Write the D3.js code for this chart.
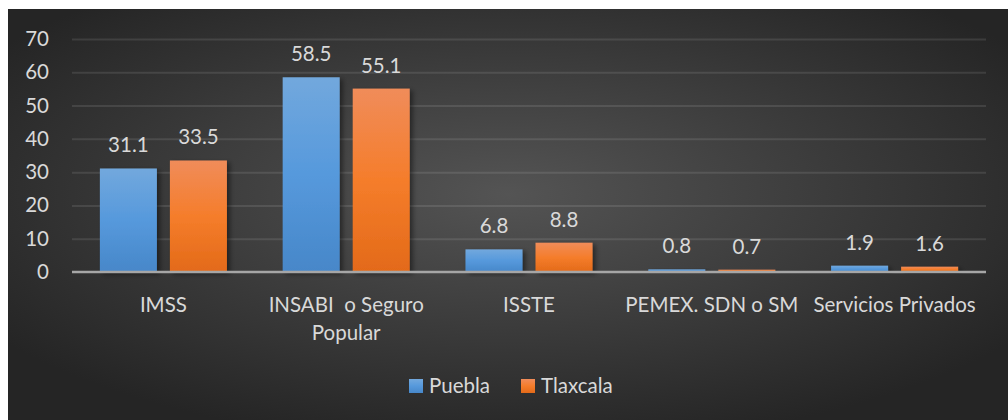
<!DOCTYPE html>
<html lang="es">
<head>
<meta charset="UTF-8">
<title>Afiliación por subsistema</title>
<style>
  html, body { margin: 0; padding: 0; background: #fff; }
  svg { display: block; }
  text { font-family: Lato, "Open Sans", sans-serif; fill: #d9d9d9; }
</style>
</head>
<body>
<script src="https://cdn.jsdelivr.net/npm/d3@7"></script>
<script>
// datos
var categorias = [["IMSS"], ["INSABI  o Seguro", "Popular"], ["ISSTE"], ["PEMEX. SDN o SM"], ["Servicios Privados"]];
var series = ["Puebla", "Tlaxcala"];
var puebla = [31.1, 58.5, 6.8, 0.8, 1.9];
var tlaxcala = [33.5, 55.1, 8.8, 0.7, 1.6];
var ticksY = [0, 10, 20, 30, 40, 50, 60, 70];

var W = 1008, H = 420;
var FS = "20.5px";
var svg = d3.select("body").append("svg").attr("width", W).attr("height", H);
var defs = svg.append("defs");

// fondo oscuro con degradado radial
var bg = defs.append("radialGradient").attr("id", "bg")
  .attr("cx", "50%").attr("cy", "45%").attr("r", "62%");
bg.append("stop").attr("offset", "0%").attr("stop-color", "#545454");
bg.append("stop").attr("offset", "100%").attr("stop-color", "#252525");

var gradBlue = defs.append("linearGradient").attr("id", "gBlue").attr("x1", 0).attr("x2", 0).attr("y1", 0).attr("y2", 1);
gradBlue.append("stop").attr("offset", "0%").attr("stop-color", "#72a8dd");
gradBlue.append("stop").attr("offset", "50%").attr("stop-color", "#5699dc");
gradBlue.append("stop").attr("offset", "100%").attr("stop-color", "#4787c9");
var gradOrange = defs.append("linearGradient").attr("id", "gOrange").attr("x1", 0).attr("x2", 0).attr("y1", 0).attr("y2", 1);
gradOrange.append("stop").attr("offset", "0%").attr("stop-color", "#f08c5a");
gradOrange.append("stop").attr("offset", "50%").attr("stop-color", "#f57d2b");
gradOrange.append("stop").attr("offset", "100%").attr("stop-color", "#e36a19");

var sh = defs.append("filter").attr("id", "sh").attr("x", "-20%").attr("y", "-20%").attr("width", "150%").attr("height", "140%");
sh.append("feDropShadow").attr("dx", 3).attr("dy", 2).attr("stdDeviation", 2.5)
  .attr("flood-color", "#000").attr("flood-opacity", 0.45);

svg.append("rect").attr("x", 8).attr("y", 9).attr("width", W - 8).attr("height", H - 9)
  .attr("fill", "url(#bg)");

var colores = {"Puebla": "url(#gBlue)", "Tlaxcala": "url(#gOrange)"};
var valores = {"Puebla": puebla, "Tlaxcala": tlaxcala};

var x0 = d3.scaleBand().domain(d3.range(categorias.length))
  .range([72, 986]).paddingInner(0.305).paddingOuter(0.1525);
var x1 = d3.scaleBand().domain(series).range([0, x0.bandwidth()]).paddingInner(0.186);
var y = d3.scaleLinear().domain([0, 70]).range([272, 39]);

// lineas de division
var yAxis = d3.axisLeft(y).tickValues(ticksY).tickSize(-(986 - 72)).tickPadding(14);
var gy = svg.append("g").attr("transform", "translate(72,0)").call(yAxis);
gy.select(".domain").remove();
gy.selectAll(".tick line").attr("stroke", "#ffffff").attr("stroke-opacity", 0.1).attr("stroke-width", 2)
  .filter(function(d) { return d === 0; }).remove();
gy.selectAll(".tick text").attr("fill", "#d9d9d9").style("font-size", FS)
  .attr("text-anchor", "end").attr("x", -23);

// barras
var grupos = svg.selectAll(".grp").data(categorias).enter().append("g")
  .attr("class", "grp")
  .attr("transform", function(d, i) { return "translate(" + x0(i) + ",0)"; });

series.forEach(function(s) {
  grupos.append("rect")
    .attr("x", x1(s))
    .attr("y", function(d, i) { return y(valores[s][i]); })
    .attr("width", x1.bandwidth())
    .attr("height", function(d, i) { return y(0) - y(valores[s][i]); })
    .attr("fill", colores[s])
    .attr("filter", "url(#sh)");
  grupos.append("text")
    .attr("x", x1(s) + x1.bandwidth() / 2)
    .attr("y", function(d, i) { return y(valores[s][i]) - 16; })
    .attr("text-anchor", "middle")
    .style("font-size", FS)
    .text(function(d, i) { return valores[s][i]; });
});

// eje x
var xAxis = d3.axisBottom(x0).tickSize(0).tickFormat("");
var gx = svg.append("g").attr("transform", "translate(0,272)").call(xAxis);
gx.select(".domain").attr("stroke", "#a6a6a6").attr("stroke-width", 2.5)
  .attr("d", "M72,0H986");

svg.selectAll(".cat").data(categorias).enter().append("text")
  .attr("class", "cat")
  .attr("text-anchor", "middle")
  .attr("x", function(d, i) { return x0(i) + x0.bandwidth() / 2; })
  .attr("y", 312)
  .style("font-size", FS)
  .each(function(d) {
    var t = d3.select(this);
    d.forEach(function(linea, k) {
      t.append("tspan").attr("x", t.attr("x")).attr("dy", k === 0 ? 0 : 28)
        .style("white-space", "pre").text(linea);
    });
  });

// leyenda
var leyX = [409, 521];
var ley = svg.selectAll(".ley").data(series).enter().append("g")
  .attr("class", "ley")
  .attr("transform", function(d, i) { return "translate(" + leyX[i] + ",379)"; });
ley.append("rect").attr("width", 14).attr("height", 14).attr("fill", function(d) { return colores[d]; });
ley.append("text").attr("x", 20).attr("y", 14).style("font-size", FS).text(function(d) { return d; });
</script>
</body>
</html>
